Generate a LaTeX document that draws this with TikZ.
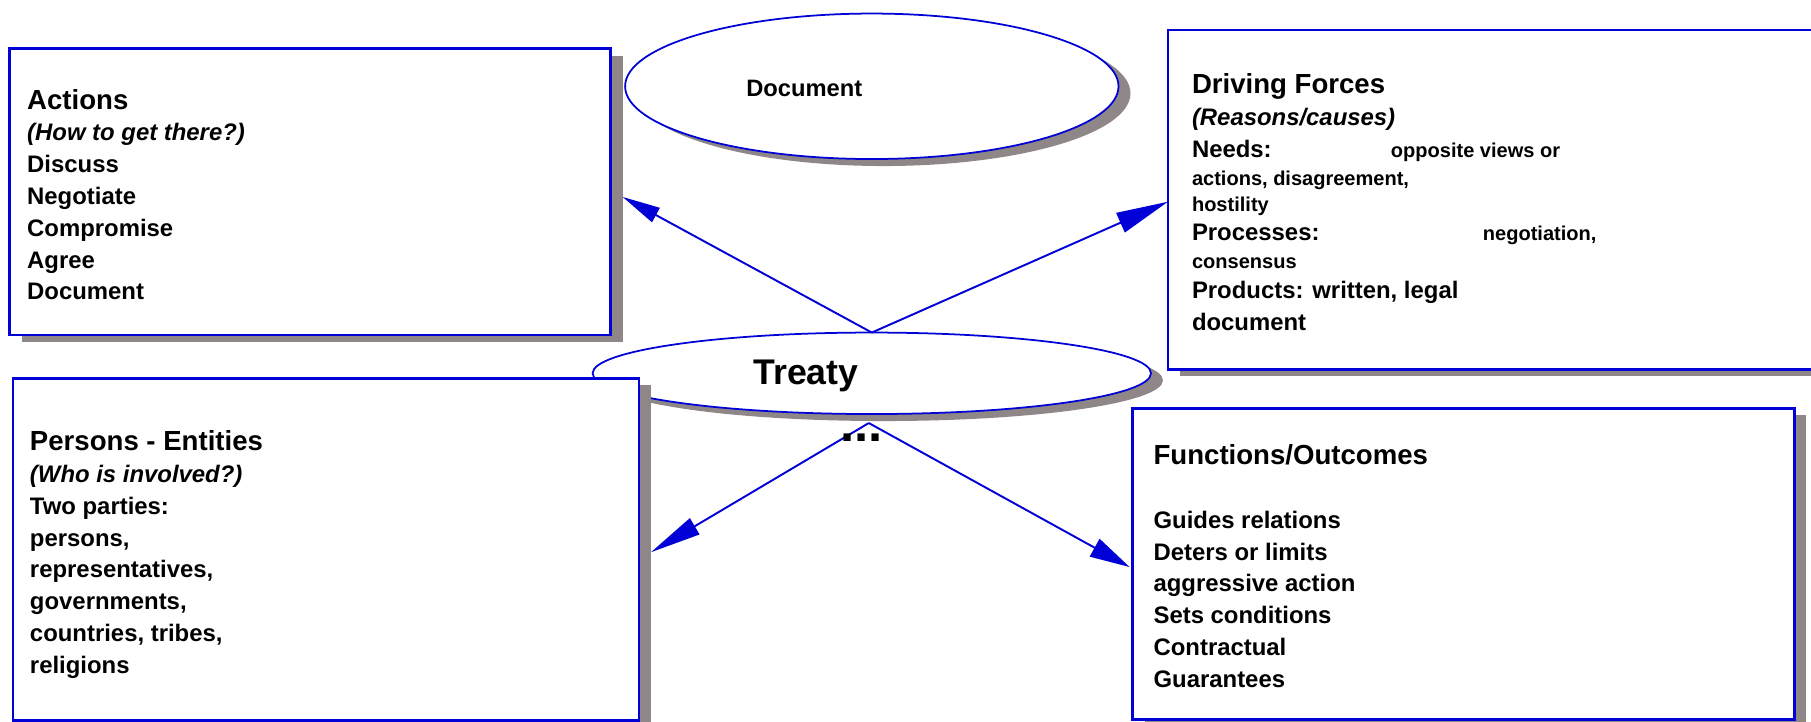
\documentclass[tikz,border=0pt]{standalone}
\usepackage{xcolor}
\usepackage{fontspec}
\setmainfont{Liberation Sans}
\usepackage{tikz}
\usetikzlibrary{shapes.geometric,arrows.meta,shadows}

\definecolor{lineblue}{RGB}{0,0,215}
\definecolor{shadowgray}{RGB}{143,135,135}
\newcommand{\hdfont}{\fontsize{15.7}{18.1}\selectfont}
\newcommand{\txfont}{\fontsize{13.6}{18.1}\selectfont}
\newcommand{\smfont}{\fontsize{11.4}{15}\selectfont}

\tikzset{
  panel/.style={draw=lineblue, line width=1.5pt, fill=white, rectangle, anchor=north west,
    inner ysep=0pt, outer sep=0pt, font=\bfseries,
    drop shadow={shadow xshift=0.24cm, shadow yshift=-0.14cm, fill=shadowgray, opacity=1}},
  oval/.style={draw=lineblue, line width=1pt, fill=white, ellipse, inner sep=0pt, outer sep=0pt,
    drop shadow={shadow xshift=0.24cm, shadow yshift=-0.14cm, fill=shadowgray, opacity=1}},
  link/.style={draw=lineblue, line width=1.1pt}
}

\begin{document}
\begin{tikzpicture}[x=0.02cm, y=-0.02cm]
\path[use as bounding box, fill=white] (0,0) rectangle (1811,722);

\node[oval, minimum width=9.87cm, minimum height=2.91cm] (document) at (871.8,86.3) {};
\node[anchor=base west, inner sep=0pt, font=\bfseries\fontsize{13.5}{16}\selectfont] (documentlabel) at (746,96.7) {Document};

\node[oval, minimum width=11.17cm, minimum height=1.63cm] (treaty) at (871.8,373.3) {};
\node[anchor=base west, inner sep=0pt, font=\bfseries\fontsize{20.3}{24}\selectfont] (treatylabel) at (753,385) {Treaty};

\node[panel, minimum width=12.01cm, minimum height=5.73cm, inner xsep=0.35cm] (actions) at (9.7,48.7) {
    \begin{minipage}[c][5.73cm][t]{11.32cm}
    \txfont\rule{0pt}{1.21cm}{\hdfont Actions}\\
    \textit{(How to get there?)}\\
    Discuss\\
    Negotiate\\
    Compromise\\
    Agree\\
    Document
    \end{minipage}
};

\node[panel, minimum width=14cm, minimum height=6.79cm, inner xsep=0.48cm] (driving) at (1168,30) {
    \begin{minipage}[c][6.79cm][t]{13.04cm}
    \txfont\rule{0pt}{1.27cm}{\hdfont Driving Forces}\\
    \textit{(Reasons/causes)}\\
    \makebox[3.98cm][l]{Needs:}{\smfont opposite views or}\\[-0.07cm]
    {\smfont actions, disagreement,}\\[-0.116cm]
    {\smfont hostility}\\[-0.056cm]
    \makebox[5.82cm][l]{Processes:}{\smfont negotiation,}\\[-0.07cm]
    {\smfont consensus}\\[-0.036cm]
    Products: written, legal\\
    document
    \end{minipage}
};

\node[panel, minimum width=12.52cm, minimum height=6.84cm, inner xsep=0.34cm] (persons) at (13,378.3) {
    \begin{minipage}[c][6.84cm][t]{11.84cm}
    \txfont\rule{0pt}{1.45cm}{\hdfont Persons - Entities}\\
    \textit{(Who is involved?)}\\
    Two parties:\\
    persons,\\
    representatives,\\
    governments,\\
    countries, tribes,\\
    religions
    \end{minipage}
};

\node[panel, minimum width=13.24cm, minimum height=6.23cm, inner xsep=0.42cm] (functions) at (1132.6,408.3) {
    \begin{minipage}[c][6.23cm][t]{12.4cm}
    \txfont\rule{0pt}{1.13cm}{\hdfont Functions/Outcomes}\\[\baselineskip]
    Guides relations\\
    Deters or limits\\
    aggressive action\\
    Sets conditions\\
    Contractual\\
    Guarantees
    \end{minipage}
};

\coordinate (split) at ([shift={(-3,9)}]treaty.south);
\draw[link, -{Triangle[length=0.76cm,width=0.32cm]}] (treaty.north) -- ([shift={(12,5)}]actions.east);
\draw[link, -{Triangle[length=1.04cm,width=0.42cm]}] (treaty.north) -- ([shift={(0,2)}]driving.west);
\draw[link, -{Triangle[length=1.02cm,width=0.37cm]}] (split) -- ([shift={(12,3)}]persons.east);
\draw[link, -{Triangle[length=0.8cm,width=0.4cm]}] (split) -- ([shift={(-3,3)}]functions.west);

\node[anchor=base, inner sep=0pt, font=\bfseries\fontsize{29}{32}\selectfont] (more) at (861.5,441) {...};
\end{tikzpicture}
\end{document}
